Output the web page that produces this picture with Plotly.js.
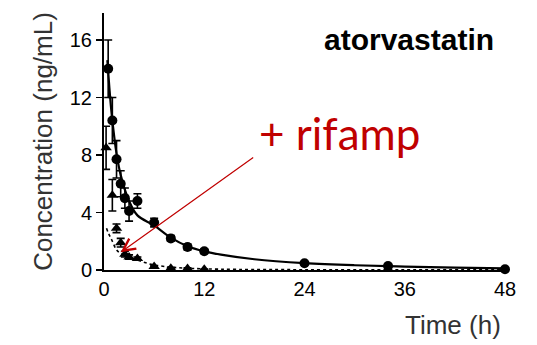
<!DOCTYPE html>
<html>
<head>
<meta charset="utf-8">
<script src="https://cdn.plot.ly/plotly-3.0.1.min.js"></script>
<style>html,body{margin:0;padding:0;background:#fff;}#chart{width:537px;height:345px;}</style>
</head>
<body>
<div id="chart"></div>
<script>
// Control (atorvastatin alone) observed points
const ctlTime = [0.5, 1, 1.5, 2, 2.5, 3, 4, 6, 8, 10, 12, 24, 34, 48];
const ctlConc = [14.0, 10.4, 7.7, 6.0, 5.0, 4.1, 4.8, 3.3, 2.2, 1.6, 1.3, 0.47, 0.28, 0.05];
const ctlErr  = [2.0, 1.6, 1.3, 0.9, 0.7, 0.7, 0.5, 0.3, 0.2, 0.2, 0.15, 0.1, 0.1, 0.05];
// + rifampicin observed points
const rifTime = [0.25, 1, 1.5, 2, 2.5, 3, 4, 6, 8, 10, 12];
const rifConc = [8.5, 5.2, 2.9, 1.9, 1.1, 0.9, 0.8, 0.25, 0.12, 0.1, 0.05];
const rifErr  = [1.5, 1.1, 0.3, 0.3, 0.2, 0.15, 0.1, 0.05, 0.05, 0.05, 0.02];
// fitted curves
const ctlFitTime = [0.4, 0.5, 0.75, 1, 1.5, 2, 3, 4, 6, 8, 10, 12, 14, 18, 24, 30, 36, 42, 48];
const ctlFitConc = [14.6, 13.8, 11.9, 10.4, 8.1, 6.6, 4.8, 3.8, 3.1, 2.25, 1.65, 1.3, 1.07, 0.75, 0.48, 0.33, 0.24, 0.17, 0.12];
const rifFitTime = [0.3, 0.5, 0.75, 1, 1.5, 2, 3, 4, 5, 6, 8, 10, 12, 16, 24, 36, 48];
const rifFitConc = [2.9, 2.6, 2.3, 2.0, 1.4, 1.15, 0.9, 0.7, 0.5, 0.35, 0.2, 0.12, 0.08, 0.04, 0.02, 0.01, 0.01];
// tick labels
const xTicks = [0, 12, 24, 36, 48];
const yTicks = [0, 4, 8, 12, 16];

const traces = [
  {x: ctlFitTime, y: ctlFitConc, mode: 'lines', line: {color: '#000', width: 2.2, shape: 'spline'}, hoverinfo: 'skip', cliponaxis: false},
  {x: rifFitTime, y: rifFitConc, mode: 'lines', line: {color: '#000', width: 1.6, dash: 'dot', shape: 'spline'}, hoverinfo: 'skip', cliponaxis: false},
  {x: ctlTime, y: ctlConc, mode: 'markers', marker: {symbol: 'circle', size: 10, color: '#000'},
   error_y: {type: 'data', array: ctlErr, color: '#000', thickness: 1.6, width: 4}, cliponaxis: false},
  {x: rifTime, y: rifConc, mode: 'markers', marker: {symbol: 'triangle-up', size: 10, color: '#000'},
   error_y: {type: 'data', array: rifErr, color: '#000', thickness: 1.6, width: 4}, cliponaxis: false}
];

const layout = {
  width: 537, height: 345,
  margin: {l: 104, r: 32, t: 13, b: 75},
  paper_bgcolor: '#fff', plot_bgcolor: '#fff',
  showlegend: false,
  font: {family: 'Liberation Sans, Arial, sans-serif', color: '#000'},
  xaxis: {
    range: [0, 48], tickvals: xTicks, ticktext: xTicks.map(String),
    showgrid: false, zeroline: false, showline: true, linecolor: '#000', linewidth: 2,
    ticks: '', tickfont: {size: 20, color: '#000'}
  },
  yaxis: {
    range: [0, 17.88], tickvals: yTicks, ticktext: yTicks.map(String),
    showgrid: false, zeroline: false, showline: true, linecolor: '#000', linewidth: 2,
    ticks: 'outside', ticklen: 6, tickwidth: 1.5, tickcolor: '#000',
    tickfont: {size: 20, color: '#000'},
    title: {text: 'Concentration (ng/mL)', font: {size: 26, color: '#333'}, standoff: 10}
  },
  annotations: [
    {xref: 'paper', yref: 'paper', x: 0.7606, y: 0.895, text: '<b>atorvastatin</b>', showarrow: false,
     font: {size: 30, color: '#000'}, xanchor: 'center', yanchor: 'middle'},
    {xref: 'paper', yref: 'paper', x: 0.5885, y: 0.533, text: '+ rifamp', showarrow: false,
     font: {family: 'Lato, sans-serif', size: 44, color: '#c00000'}, xanchor: 'center', yanchor: 'middle'},
    {xref: 'paper', yref: 'paper', x: 0.870, y: -0.214, text: 'Time (h)', showarrow: false,
     font: {size: 26, color: '#333'}, xanchor: 'center', yanchor: 'middle'},
    {x: 2.0, y: 1.23, xref: 'x', yref: 'y', text: '', showarrow: true, ax: 134, ay: -96,
     arrowcolor: '#c00000', arrowwidth: 1.2, arrowhead: 5, arrowsize: 2}
  ]
};

Plotly.newPlot('chart', traces, layout, {displayModeBar: false, staticPlot: true});
</script>
</body>
</html>
